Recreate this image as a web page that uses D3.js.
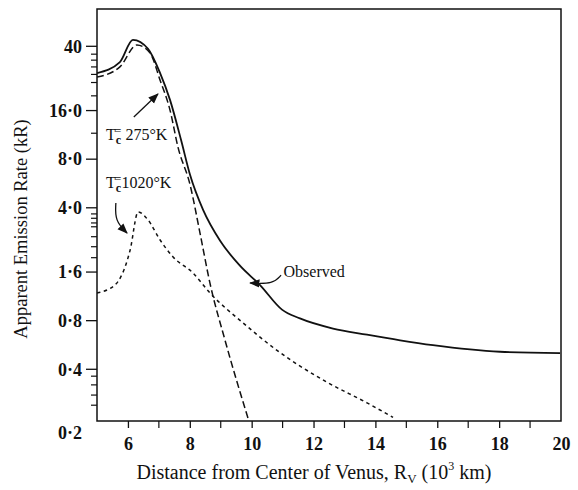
<!DOCTYPE html>
<html>
<head>
<meta charset="utf-8">
<script src="https://cdn.jsdelivr.net/npm/d3@7"></script>
<style>
  body { margin: 0; background: #fff; }
  text { font-family: "Liberation Serif", "Times New Roman", serif; fill: #111; }
</style>
</head>
<body>
<svg width="578" height="490"></svg>
<script>
// distance from Venus centre (10^3 km) and emission rate (kR)
let observedX = [5.0, 5.74, 6.16, 6.65, 7.04, 7.36, 7.72, 8.01, 8.43, 8.98, 9.62, 10.27, 10.98, 11.56, 12.63, 13.73, 14.8, 15.86, 18.03, 19.97];
let observedY = [27.1, 31.7, 43.5, 38.3, 27.1, 18.5, 10.4, 6.33, 3.85, 2.48, 1.74, 1.32, 0.93, 0.82, 0.71, 0.65, 0.60, 0.56, 0.51, 0.50];

let t275X = [5.0, 5.74, 6.29, 6.71, 7.04, 7.36, 7.62, 8.01, 8.33, 8.65, 9.14, 9.91];
let t275Y = [25.6, 29.6, 40.5, 36.2, 24.5, 16.0, 9.4, 5.5, 2.77, 1.36, 0.60, 0.19];

let t1020X = [5.0, 5.58, 6.07, 6.33, 6.65, 7.04, 7.46, 8.1, 8.65, 9.72, 10.82, 12.44, 13.73, 14.57];
let t1020Y = [1.18, 1.32, 2.17, 3.74, 3.34, 2.51, 1.97, 1.57, 1.18, 0.77, 0.52, 0.33, 0.246, 0.20];

let yTicks = [0.2, 0.4, 0.8, 1.6, 4, 8, 16, 40];
let yTickLabels = ["0·2", "0·4", "0·8", "1·6", "4·0", "8·0", "16·0", "40"];
let yMinor = [35.5, 32.6, 29.6, 26.6, 23.7, 19.6, 11.5, 3.64, 3.42, 3.2, 3.03, 2.63, 2.28, 1.95, 0.36, 0.318, 0.275, 0.238];
let xTicks = [6, 8, 10, 12, 14, 16, 18, 20];
let xMinor = [7, 9, 11, 13, 15, 17, 19];

let svg = d3.select("svg");
let pLeft = 97, pRight = 561, pTop = 9, pBottom = 421;

let x = d3.scaleLinear().domain([5, 20]).range([pLeft, pRight]);
let y = d3.scaleLog().domain([0.19, 67.6]).range([pBottom, pTop]);

svg.append("clipPath").attr("id", "plot")
  .append("rect")
  .attr("x", pLeft).attr("y", pTop)
  .attr("width", pRight - pLeft).attr("height", pBottom - pTop);

// y axis
let yAxis = svg.append("g")
  .attr("transform", `translate(${pLeft},0)`)
  .call(d3.axisLeft(y).tickValues(yTicks).tickSize(11).tickPadding(4)
    .tickFormat((d, i) => yTickLabels[i]));
yAxis.select(".domain").remove();
yAxis.selectAll(".tick text")
  .style("font-size", "18px").style("font-weight", "bold")
  .attr("dy", d => d === 0.2 ? "1.2em" : "0.35em");
yAxis.selectAll(".tick line")
  .attr("stroke", "#111").attr("stroke-width", 1.3)
  .filter(d => d === 0.2).remove();

svg.append("g")
  .selectAll("line")
  .data(yMinor)
  .enter()
  .append("line")
  .attr("x1", pLeft - 6)
  .attr("x2", pLeft)
  .attr("y1", d => y(d))
  .attr("y2", d => y(d))
  .attr("stroke", "#111")
  .attr("stroke-width", 1.2);

// x axis
let xAxis = svg.append("g")
  .attr("transform", `translate(0,${pBottom})`)
  .call(d3.axisBottom(x).tickValues(xTicks).tickSize(7).tickPadding(9)
    .tickFormat(d3.format("d")));
xAxis.select(".domain").remove();
xAxis.selectAll(".tick text").style("font-size", "18px").style("font-weight", "bold");
xAxis.selectAll(".tick line")
  .attr("stroke", "#111").attr("stroke-width", 1.3)
  .filter(d => d === 20).remove();

svg.append("g")
  .selectAll("line")
  .data(xMinor)
  .enter()
  .append("line")
  .attr("x1", d => x(d))
  .attr("x2", d => x(d))
  .attr("y1", pBottom)
  .attr("y2", pBottom + 7)
  .attr("stroke", "#111")
  .attr("stroke-width", 1.2);

// frame
svg.append("rect")
  .attr("x", pLeft).attr("y", pTop)
  .attr("width", pRight - pLeft).attr("height", pBottom - pTop)
  .attr("fill", "none")
  .attr("stroke", "#111")
  .attr("stroke-width", 1.5);

let line = d3
  .line()
  .x(d => x(d[0]))
  .y(d => y(d[1]))
  .curve(d3.curveMonotoneX);

let curves = [
  { xs: observedX, ys: observedY, dash: null },
  { xs: t275X, ys: t275Y, dash: "7,3.5" },
  { xs: t1020X, ys: t1020Y, dash: "3.5,3.5" }
];

svg.append("g")
  .attr("clip-path", "url(#plot)")
  .selectAll("path")
  .data(curves)
  .enter()
  .append("path")
  .attr("d", d => line(d.xs.map((v, i) => [v, d.ys[i]])))
  .attr("fill", "none")
  .attr("stroke", "#111")
  .attr("stroke-width", d => d.dash ? 1.5 : 1.8)
  .attr("stroke-dasharray", d => d.dash);

// arrow heads
svg.append("defs").append("marker")
  .attr("id", "head")
  .attr("viewBox", "0 0 10 10")
  .attr("refX", 9).attr("refY", 5)
  .attr("markerWidth", 8).attr("markerHeight", 8)
  .attr("orient", "auto")
  .append("path")
  .attr("d", "M0,1 L10,5 L0,9 Z")
  .attr("fill", "#111");

// labels for temperature curves
function tempLabel(px, py, value) {
  let t = svg.append("text")
    .attr("x", x(px)).attr("y", y(py))
    .style("font-size", "16px");
  t.append("tspan").text("T");
  t.append("tspan").attr("dy", 4).style("font-size", "12px").style("font-weight", "bold").text("c");
  t.append("tspan").attr("dx", -7).attr("dy", -9).style("font-size", "13px").text("=");
  t.append("tspan").attr("dy", 5).text(value);
}
tempLabel(5.29, 10.5, " 275°K");
tempLabel(5.29, 5.28, "1020°K");

let arrow = d3.line().x(d => x(d[0])).y(d => y(d[1])).curve(d3.curveBasis);

svg.append("path")
  .attr("d", arrow([[6.19, 14.5], [6.97, 20.1]]))
  .attr("fill", "none").attr("stroke", "#111").attr("stroke-width", 1.3)
  .attr("marker-end", "url(#head)");

svg.append("path")
  .attr("d", arrow([[5.61, 4.25], [5.58, 3.3], [5.97, 2.77]]))
  .attr("fill", "none").attr("stroke", "#111").attr("stroke-width", 1.3)
  .attr("marker-end", "url(#head)");

svg.append("text")
  .attr("x", x(11.03)).attr("y", y(1.48))
  .style("font-size", "16px")
  .text("Observed");

svg.append("path")
  .attr("d", arrow([[10.95, 1.52], [10.7, 1.34], [9.95, 1.36]]))
  .attr("fill", "none").attr("stroke", "#111").attr("stroke-width", 1.3)
  .attr("marker-end", "url(#head)");

// axis titles
let xt = svg.append("text")
  .attr("x", 314)
  .attr("y", 479)
  .attr("text-anchor", "middle")
  .style("font-size", "20px");
xt.append("tspan").text("Distance from Center of Venus, R");
xt.append("tspan").attr("dy", 4).style("font-size", "13px").text("V");
xt.append("tspan").attr("dy", -4).text(" (10");
xt.append("tspan").attr("dy", -9).style("font-size", "12px").text("3");
xt.append("tspan").attr("dy", 9).text(" km)");

svg.append("text")
  .attr("transform", `translate(27,${(pTop + pBottom) / 2 + 14}) rotate(-90)`)
  .attr("text-anchor", "middle")
  .style("font-size", "18.5px")
  .text("Apparent Emission Rate (kR)");
</script>
</body>
</html>
